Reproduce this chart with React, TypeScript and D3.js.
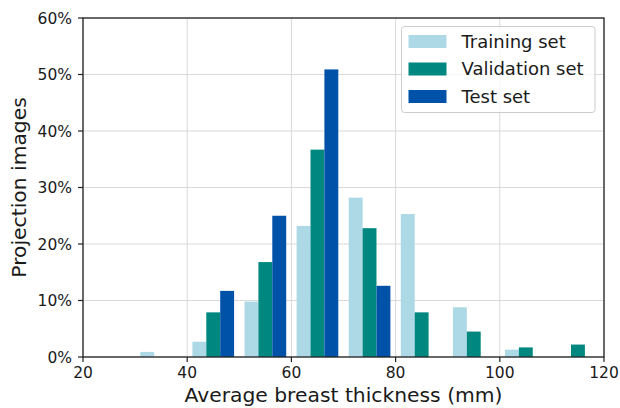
import React from 'react';
import {scaleLinear, range} from 'd3';

// histogram bins (mm), 10 mm wide
const binStarts = [30, 40, 50, 60, 70, 80, 90, 100, 110];
const seriesNames = ['Training set', 'Validation set', 'Test set'];
const trainingSet = [0.9, 2.7, 9.8, 23.2, 28.2, 25.3, 8.8, 1.3, 0];
const validationSet = [0, 7.9, 16.8, 36.7, 22.8, 7.9, 4.5, 1.7, 2.2];
const testSet = [0, 11.7, 25.0, 50.9, 12.6, 0, 0, 0, 0];
const xTicks = [20, 40, 60, 80, 100, 120];
const yTicks = [0, 10, 20, 30, 40, 50, 60];

const colors = ['#ADD8E6', '#00877F', '#0051A8'];
const font = '"DejaVu Sans", sans-serif';

const App = () => {
    const margin = {top: 18, right: 16, bottom: 51, left: 83},
        width = 620 - margin.left - margin.right,
        height = 408 - margin.top - margin.bottom;

    const xScale = scaleLinear().domain([20, 120]).range([0, width]);
    const yScale = scaleLinear().domain([0, 60]).range([height, 0]);

    const series = [trainingSet, validationSet, testSet];
    const binW = 10, rwidth = 0.8;
    const barW = (binW * rwidth) / series.length;
    const offset = (binW * (1 - rwidth)) / 2;

    return (
        <svg width={620} height={408} style={{position: 'absolute', left: 0, top: 0}} fontFamily={font}>
            <rect width={620} height={408} fill="white"/>
            <g transform={`translate(${margin.left},${margin.top})`}>
                {/* grid */}
                {xTicks.map(t => (
                    <line key={'gx' + t} x1={xScale(t)} x2={xScale(t)} y1={0} y2={height} stroke="#d9d9d9" strokeWidth={1}/>
                ))}
                {yTicks.map(t => (
                    <line key={'gy' + t} x1={0} x2={width} y1={yScale(t)} y2={yScale(t)} stroke="#d9d9d9" strokeWidth={1}/>
                ))}

                {/* bars */}
                {series.map((vals, si) => (
                    <g key={si} fill={colors[si]}>
                        {range(binStarts.length).map(i => {
                            const x0 = binStarts[i] + offset + si * barW;
                            const v = vals[i];
                            if (!v) return null;
                            return <rect key={i} x={xScale(x0)} y={yScale(v)}
                                         width={xScale(x0 + barW) - xScale(x0)} height={yScale(0) - yScale(v)}/>
                        })}
                    </g>
                ))}

                {/* frame */}
                <rect x={0} y={0} width={width} height={height} fill="none" stroke="#222" strokeWidth={1.3}/>

                {/* x axis */}
                {xTicks.map(t => (
                    <g key={'xt' + t} transform={`translate(${xScale(t)},${height})`}>
                        <line y1={0} y2={5} stroke="#222" strokeWidth={1.2}/>
                        <text y={21} textAnchor="middle" fontSize={15.5} fill="#1a1a1a">{t}</text>
                    </g>
                ))}
                {/* y axis */}
                {yTicks.map(t => (
                    <g key={'yt' + t} transform={`translate(0,${yScale(t)})`}>
                        <line x1={-5} x2={0} stroke="#222" strokeWidth={1.2}/>
                        <text x={-11} dy="0.36em" textAnchor="end" fontSize={15.5} fill="#1a1a1a">{t}%</text>
                    </g>
                ))}

                {/* legend */}
                <g transform="translate(318.5,8.5)">
                    <rect width={193.5} height={86} rx={3} fill="white" fillOpacity={0.8} stroke="#cccccc"/>
                    {seriesNames.map((name, i) => (
                        <g key={name} transform={`translate(0,${i * 27.5})`}>
                            <rect x={7} y={8.5} width={38} height={13} fill={colors[i]}/>
                            <text x={60} y={15} dy="0.36em" fontSize={18} fill="#1a1a1a">{name}</text>
                        </g>
                    ))}
                </g>
            </g>

            <text x={margin.left + width / 2} y={402} textAnchor="middle" fontSize={20.3} fill="#1a1a1a">
                Average breast thickness (mm)
            </text>
            <text transform={`translate(26,${margin.top + height / 2}) rotate(-90)`} textAnchor="middle" fontSize={20.3} fill="#1a1a1a">
                Projection images
            </text>
        </svg>
    )
}

export default App;
